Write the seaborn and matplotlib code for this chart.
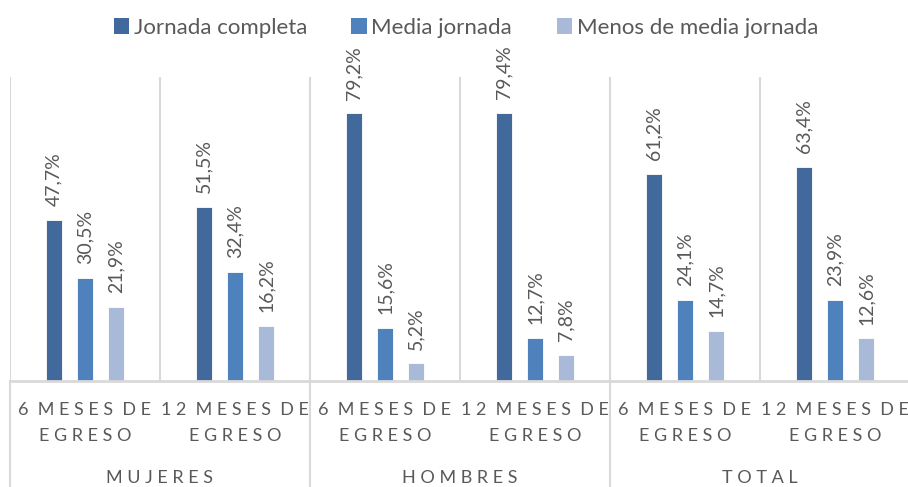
import matplotlib
matplotlib.use("Agg")
import matplotlib.pyplot as plt
import matplotlib.transforms as mtransforms
from matplotlib.patches import Patch
import seaborn as sns
import pandas as pd

# ---- data ----
groups = ["MUJERES", "HOMBRES", "TOTAL"]
periods = ["6 MESES DE\nEGRESO", "12 MESES DE\nEGRESO"]
series = ["Jornada completa", "Media jornada", "Menos de media jornada"]
jornada_completa = [47.7, 51.5, 79.2, 79.4, 61.2, 63.4]
media_jornada = [30.5, 32.4, 15.6, 12.7, 24.1, 23.9]
menos_media = [21.9, 16.2, 5.2, 7.8, 14.7, 12.6]
colors = ["#41699B", "#4F81BD", "#A9B9D8"]

keys = [f"{g}|{p}" for g in groups for p in periods]
tick_labels = [p for g in groups for p in periods]
rows = []
for s, vals in zip(series, [jornada_completa, media_jornada, menos_media]):
    for k, v in zip(keys, vals):
        rows.append({"cat": k, "serie": s, "valor": v})
df = pd.DataFrame(rows)

sns.set_style("white")
plt.rcParams["font.family"] = ["Lato", "DejaVu Sans"]
text_color = "#595959"
grid_color = "#D9D9D9"

fig = plt.figure(figsize=(9.08, 4.87), dpi=100)
ax = fig.add_axes([10 / 908, 106 / 487, 900 / 908, 304 / 487])

sns.barplot(data=df, x="cat", y="valor", hue="serie", order=keys,
            hue_order=series, palette=colors, width=0.62, gap=0.48,
            edgecolor="#FFFFFF", linewidth=0.6, legend=False, ax=ax,
            saturation=1)

ax.set_xlim(-0.5, 5.5)
ax.set_ylim(0, 90)
ax.set_xlabel("")
ax.set_ylabel("")
ax.set_yticks([])
for sp in ax.spines.values():
    sp.set_visible(False)

# data labels
for cont in ax.containers:
    vals = [b.get_height() for b in cont]
    labs = [f"{v:.1f}%".replace(".", ",") for v in vals]
    ax.bar_label(cont, labels=labs, rotation=90, padding=10,
                 fontsize=14, color=text_color)

# gridlines between categories
for k in range(6):
    ax.axvline(k - 0.5, color=grid_color, lw=1.5, zorder=0)
ax.axhline(0, color=grid_color, lw=2, zorder=3, clip_on=False)

trans = mtransforms.blended_transform_factory(ax.transData, ax.transAxes)
for xg in [-0.5, 1.5, 3.5, 5.5]:
    ax.plot([xg, xg], [0, -0.36], transform=trans, color=grid_color,
            lw=1.5, clip_on=False)


def spaced(t):
    lines = []
    for line in t.split("\n"):
        words = [" ".join(list(w)) for w in line.split(" ")]
        lines.append("  ".join(words))
    return "\n".join(lines)


ax.set_xticks(range(6))
ax.set_xticklabels([spaced(t) for t in tick_labels], fontsize=13,
                   color=text_color, linespacing=1.75)
ax.tick_params(axis="x", length=0, pad=15)

for i, g in enumerate(groups):
    ax.text(2 * i + 0.5, -0.32, spaced(g), transform=trans, ha="center",
            va="center", fontsize=13, color=text_color)

handles = [Patch(facecolor=c, edgecolor="none") for c in colors]
fig.legend(handles, series, loc="upper center", bbox_to_anchor=(0.513, 1.005),
           ncol=3, frameon=False, fontsize=16, handlelength=0.7,
           handleheight=0.7, handletextpad=0.2, columnspacing=2.0,
           labelcolor=text_color)

fig.savefig("out.png", dpi=100)
